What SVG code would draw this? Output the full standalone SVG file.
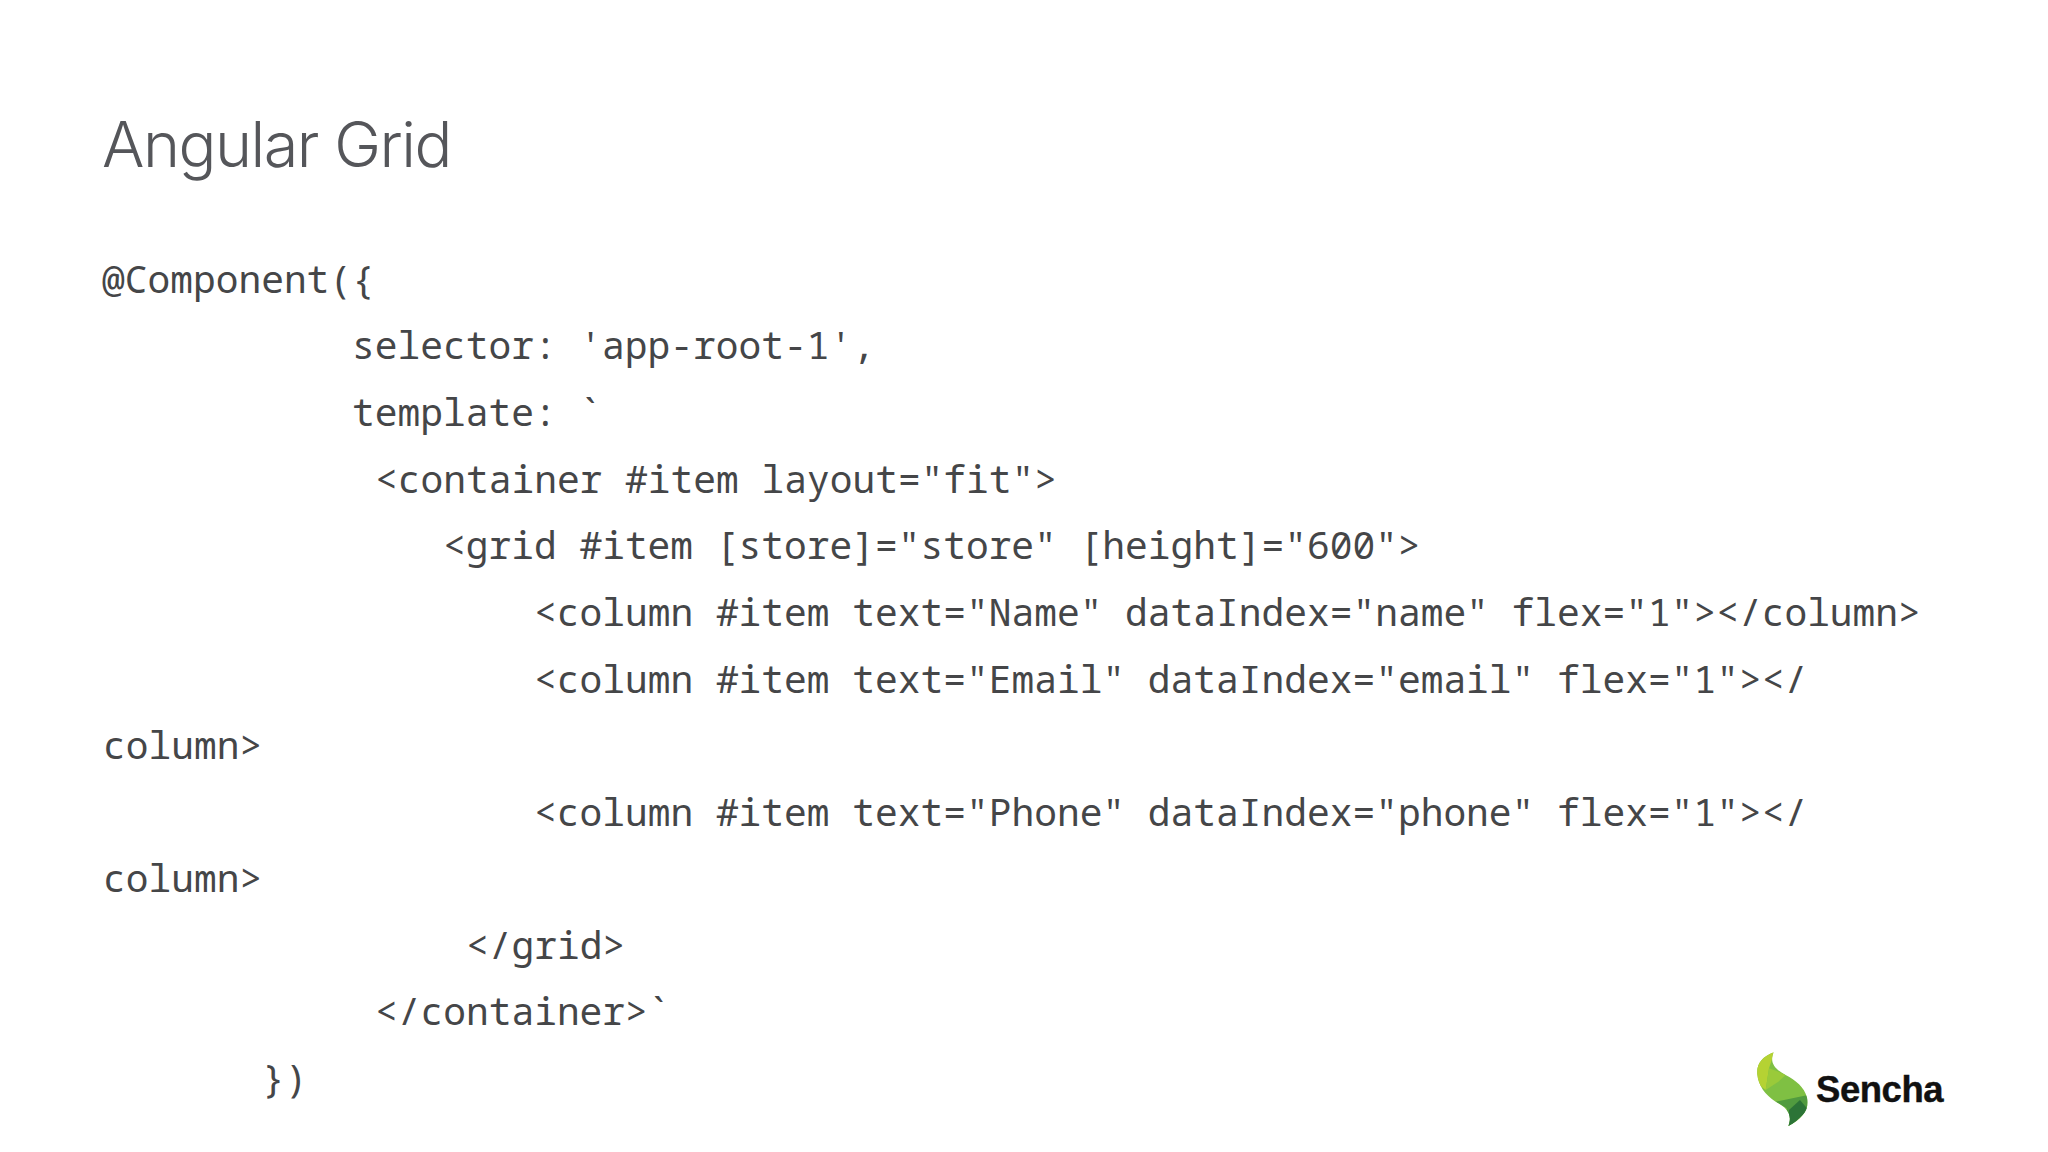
<svg xmlns="http://www.w3.org/2000/svg" width="2048" height="1152" viewBox="0 0 2048 1152">
<style>
.c{font-family:"Noto Sans Mono","DejaVu Sans Mono","Liberation Mono",monospace;font-size:37.9px;fill:#454648}
.t{font-family:"Inter","Liberation Sans",Arial,sans-serif;font-weight:300;font-size:63px;fill:#55565a;letter-spacing:-1.5px}
.s{font-family:"Liberation Sans",Arial,sans-serif;font-weight:700;font-size:36.5px;fill:#111;letter-spacing:-0.45px;stroke:#111;stroke-width:.4px}
</style>
<defs>
<clipPath id="leaf"><path d="M86 22C50 36 34 58 37 88C40 122 60 150 92 170C118 184 146 204 130 243C174 222 194 190 186 158C178 126 152 106 122 90C92 74 72 55 86 22Z"/></clipPath>
</defs>
<rect width="2048" height="1152" fill="#fff"/>
<text class="t" x="102" y="167">Angular Grid</text>
<g id="code">
<text class="c" x="102" y="293">@Component({</text>
<text class="c" x="352" y="359">selector: 'app-root-1',</text>
<text class="c" x="352" y="426">template: `</text>
<text class="c" x="375" y="493">&lt;container #item layout="fit"&gt;</text>
<text class="c" x="443" y="559">&lt;grid #item [store]="store" [height]="600"&gt;</text>
<text class="c" x="534" y="626">&lt;column #item text="Name" dataIndex="name" flex="1"&gt;&lt;/column&gt;</text>
<text class="c" x="534" y="693">&lt;column #item text="Email" dataIndex="email" flex="1"&gt;&lt;/</text>
<text class="c" x="103" y="759">column&gt;</text>
<text class="c" x="534" y="826">&lt;column #item text="Phone" dataIndex="phone" flex="1"&gt;&lt;/</text>
<text class="c" x="103" y="892">column&gt;</text>
<text class="c" x="466" y="959">&lt;/grid&gt;</text>
<text class="c" x="375" y="1025">&lt;/container&gt;`</text>
<text class="c" x="262" y="1092">})</text>
</g>
<g id="logo">
<g transform="translate(1745 1045) scale(.3333)" clip-path="url(#leaf)">
<rect x="30" y="15" width="165" height="235" fill="#7fc043"/>
<path d="M30 15H90L72 70L62 135L30 110Z" fill="#b5d233"/>
<path d="M72 70L62 135L100 110L122 90L95 78Z" fill="#9aca3a"/>
<path d="M92 170L190 150L190 190L130 250L125 190Z" fill="#519b3f"/>
<path d="M130 250L190 195L165 165L132 195Z" fill="#2c7437"/>
</g>
<text class="s" x="1816" y="1102">Sencha</text>
</g>
</svg>
